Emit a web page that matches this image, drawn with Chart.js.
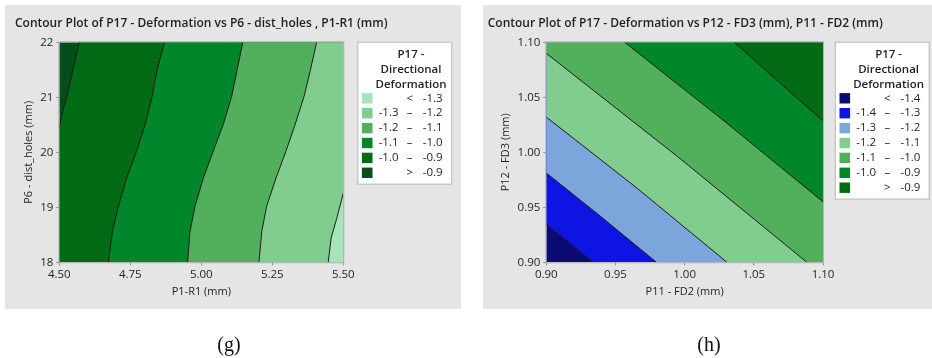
<!DOCTYPE html>
<html>
<head>
<meta charset="utf-8">
<script src="https://cdn.jsdelivr.net/npm/chart.js@4.4.1/dist/chart.umd.min.js"></script>
<style>
  html, body { margin: 0; padding: 0; background: #fff; }
  body { width: 932px; height: 358px; position: relative; overflow: hidden; }
  canvas { position: absolute; top: 0; }
  #chartG { left: 0; }
  #chartH { left: 466px; }
  .caption {
    position: absolute; top: 333px; line-height: 22px;
    font-family: 'Liberation Serif', 'Times New Roman', serif; font-size: 20px; color: #111;
    transform: translateX(-50%);
  }
</style>
</head>
<body>
<canvas id="chartG" width="466" height="358"></canvas>
<canvas id="chartH" width="466" height="358"></canvas>
<div class="caption" style="left:229px">(g)</div>
<div class="caption" style="left:709px">(h)</div>
<script>
const FONT = "'Open Sans', 'Noto Sans', sans-serif";
const TEXT = '#1f1f1f';

// ---- (g) P17 vs P6 - dist_holes, P1-R1 ----
const gXTicks = [4.5, 4.75, 5.0, 5.25, 5.5];
const gYTicks = [18, 19, 20, 21, 22];
// contour lines [P1-R1, P6]
const gLevel09 = [[4.500, 20.45], [4.512, 20.75], [4.526, 21.0], [4.548, 21.5], [4.570, 22.0]];
const gLevel10 = [[4.673, 18.0], [4.687, 18.56], [4.708, 19.02], [4.737, 19.53], [4.772, 20.02], [4.802, 20.5], [4.827, 21.02], [4.843, 21.47], [4.870, 22.0]];
const gLevel11 = [[4.952, 18.0], [4.960, 18.56], [4.978, 19.02], [5.007, 19.53], [5.042, 20.02], [5.077, 20.5], [5.107, 21.02], [5.125, 21.47], [5.146, 22.0]];
const gLevel12 = [[5.203, 18.0], [5.213, 18.56], [5.230, 19.02], [5.263, 19.53], [5.298, 20.02], [5.330, 20.5], [5.362, 21.02], [5.383, 21.47], [5.406, 22.0]];
const gLevel13 = [[5.447, 18.0], [5.457, 18.44], [5.477, 18.80], [5.500, 19.26]];
const gLegendLow = ['', '-1.3', '-1.2', '-1.1', '-1.0', ''];
const gLegendSep = ['<', '–', '–', '–', '–', '>'];
const gLegendHigh = ['-1.3', '-1.2', '-1.1', '-1.0', '-0.9', '-0.9'];
const gColors = ['#a6e4ba', '#80cd8f', '#52b05d', '#00862a', '#006b14', '#004e1c'];

// ---- (h) P17 vs P12 - FD3, P11 - FD2 ----
const hXTicks = [0.90, 0.95, 1.00, 1.05, 1.10];
const hYTicks = [0.90, 0.95, 1.00, 1.05, 1.10];
const hLevel14 = [[0.900, 0.9342], [0.917, 0.9175], [0.9337, 0.900]];
const hLevel13 = [[0.900, 0.9812], [0.940, 0.9410], [0.9796, 0.900]];
const hLevel12 = [[0.900, 1.0320], [0.965, 0.9680], [1.0306, 0.900]];
const hLevel11 = [[0.900, 1.0900], [0.995, 0.9960], [1.0884, 0.900]];
const hLevel10 = [[0.9567, 1.100], [1.030, 1.0270], [1.100, 0.9550]];
const hLevel09 = [[1.036, 1.100], [1.068, 1.0640], [1.100, 1.0287]];
const hLegendLow = ['', '-1.4', '-1.3', '-1.2', '-1.1', '-1.0', ''];
const hLegendSep = ['<', '–', '–', '–', '–', '–', '>'];
const hLegendHigh = ['-1.4', '-1.3', '-1.2', '-1.1', '-1.0', '-0.9', '-0.9'];
const hColors = ['#0b0c73', '#0e14e2', '#7ca6db', '#80cd8f', '#52b05d', '#00862a', '#006b14'];

const pts = (arr) => arr.map(([x, y]) => ({ x, y }));

function band(color, points, order) {
  return {
    data: pts(points), fill: 'shape', backgroundColor: color, yAxisID: 'y',
    borderColor: 'transparent', borderWidth: 0, pointRadius: 0, tension: 0, order,
  };
}

function contour(points) {
  return {
    data: pts(points), fill: false, borderColor: '#1c1c1c', borderWidth: 1, yAxisID: 'y',
    pointRadius: 0, tension: 0, order: 0,
  };
}

const deco = {
  id: 'deco',
  beforeDraw(chart, args, o) {
    const { ctx } = chart;
    ctx.save();
    ctx.fillStyle = '#e5e5e5';
    ctx.fillRect(o.panel[0], o.panel[1], o.panel[2], o.panel[3]);
    ctx.restore();
  },
  afterDatasetsDraw(chart) {
    const { ctx, chartArea: a } = chart;
    ctx.save();
    ctx.strokeStyle = '#b4b4b4';
    ctx.lineWidth = 1;
    ctx.strokeRect(a.left - 0.5, a.top - 0.5, a.right - a.left + 1, a.bottom - a.top + 1);
    ctx.restore();
  },
  afterDraw(chart, args, o) {
    const { ctx, chartArea: a } = chart;
    const lg = o.legend;
    const x0 = a.right + lg.gap, y0 = a.top;
    const h = 56 + (lg.colors.length - 1) * 14.9 + 11.5;
    ctx.save();
    ctx.fillStyle = '#fff';
    ctx.fillRect(x0, y0, 94, h);
    ctx.strokeStyle = '#c8c8c8';
    ctx.lineWidth = 1.5;
    ctx.strokeRect(x0, y0, 94, h);
    ctx.textBaseline = 'middle';
    ctx.fillStyle = TEXT;
    ctx.font = `600 11.5px ${FONT}`;
    ctx.textAlign = 'center';
    ['P17 -', 'Directional', 'Deformation'].forEach((t, i) => ctx.fillText(t, x0 + 53.3, y0 + 12 + i * 15.4));
    ctx.font = `11.5px ${FONT}`;
    lg.colors.forEach((c, i) => {
      const y = y0 + 56 + i * 14.9;
      ctx.fillStyle = c;
      ctx.fillRect(x0 + 4.2, y - 5.2, 10.6, 10.4);
      ctx.fillStyle = TEXT;
      ctx.textAlign = 'right';
      ctx.fillText(lg.low[i], x0 + 40.8, y);
      ctx.textAlign = 'center';
      ctx.fillText(lg.sep[i], x0 + 52, y);
      ctx.textAlign = 'right';
      ctx.fillText(lg.high[i], x0 + 85, y);
    });
    ctx.restore();
  },
};

function axis(ticks, digits, title, titlePad, fitFn) {
  const min = ticks[0], max = ticks[ticks.length - 1];
  return {
    type: 'linear', min, max,
    afterBuildTicks: (s) => { s.ticks = ticks.map((v) => ({ value: v })); },
    afterFit: fitFn,
    ticks: {
      autoSkip: false, maxRotation: 0, padding: 3, color: TEXT,
      font: { family: FONT, size: 11.5 },
      callback: (v) => Number(v).toFixed(digits),
    },
    grid: { drawOnChartArea: false, tickLength: 3, color: '#8a8a8a' },
    border: { display: false },
    title: { display: true, text: title, color: TEXT, font: { family: FONT, size: 11 }, padding: titlePad },
  };
}

function makeChart(id, p) {
  return new Chart(document.getElementById(id), {
    type: 'line',
    data: { datasets: p.datasets },
    options: {
      responsive: false, animation: false, events: [],
      layout: { padding: p.padding },
      scales: {
        x: axis(p.xTicks, p.xDigits, p.xTitle, { top: 0, bottom: 8.4 }, (s) => { s.height = 45; }),
        y: axis(p.yTicks, p.yDigits, p.yTitle, { top: p.yTitlePad, bottom: 0 }, (s) => { s.width = p.yWidth; }),
        // empty right-hand strip that holds the legend box
        yr: {
          type: 'linear', position: 'right', display: true,
          ticks: { display: false }, grid: { display: false }, border: { display: false },
          afterFit: (s) => { s.width = p.legendStrip; },
        },
      },
      plugins: {
        legend: { display: false },
        tooltip: { enabled: false },
        title: {
          display: true, text: p.title, align: 'start', color: TEXT,
          font: { family: FONT, size: 12, weight: '600' },
          padding: { top: 16.8, bottom: 11.1 },
        },
        deco: { panel: p.panel, legend: p.legend },
      },
    },
    plugins: [deco],
  });
}

// panel (g): layered fills, each covering everything to the right of its contour
{
  const [x0, x1] = [gXTicks[0], gXTicks[gXTicks.length - 1]];
  const [y0, y1] = [gYTicks[0], gYTicks[gYTicks.length - 1]];
  const layers = [
    [[x0, y0], [x1, y0], [x1, y1], [x0, y1]],
    [...gLevel09, [x1, y1], [x1, y0], [x0, y0]],
    [...gLevel10, [x1, y1], [x1, y0]],
    [...gLevel11, [x1, y1], [x1, y0]],
    [...gLevel12, [x1, y1], [x1, y0]],
    [...gLevel13, [x1, y0]],
  ];
  const datasets = layers.map((l, i) => band(gColors[gColors.length - 1 - i], l, 20 - i));
  [gLevel09, gLevel10, gLevel11, gLevel12, gLevel13].forEach((c) => datasets.push(contour(c)));
  makeChart('chartG', {
    datasets,
    title: 'Contour Plot of P17 - Deformation vs P6 - dist_holes , P1-R1 (mm)',
    xTitle: 'P1-R1 (mm)', yTitle: 'P6 - dist_holes (mm)',
    xTicks: gXTicks, yTicks: gYTicks, xDigits: 2, yDigits: 0,
    padding: { left: 15, right: 0, top: 0, bottom: 50.7 },
    yWidth: 44.3, yTitlePad: 7.5, legendStrip: 122.7,
    panel: [5, 5, 456, 304],
    legend: { gap: 14.4, colors: gColors, low: gLegendLow, sep: gLegendSep, high: gLegendHigh },
  });
}

// panel (h): layered fills, each covering everything above-right of its contour
{
  const [x0, x1] = [hXTicks[0], hXTicks[hXTicks.length - 1]];
  const [y0, y1] = [hYTicks[0], hYTicks[hYTicks.length - 1]];
  const layers = [
    [[x0, y0], [x1, y0], [x1, y1], [x0, y1]],
    [...hLevel14, [x1, y0], [x1, y1], [x0, y1]],
    [...hLevel13, [x1, y0], [x1, y1], [x0, y1]],
    [...hLevel12, [x1, y0], [x1, y1], [x0, y1]],
    [...hLevel11, [x1, y0], [x1, y1], [x0, y1]],
    [...hLevel10, [x1, y1]],
    [...hLevel09, [x1, y1]],
  ];
  const datasets = layers.map((l, i) => band(hColors[i], l, 20 - i));
  [hLevel14, hLevel13, hLevel12, hLevel11, hLevel10, hLevel09].forEach((c) => datasets.push(contour(c)));
  makeChart('chartH', {
    datasets,
    title: 'Contour Plot of P17 - Deformation vs P12 - FD3 (mm), P11 - FD2 (mm)',
    xTitle: 'P11 - FD2 (mm)', yTitle: 'P12 - FD3 (mm)',
    xTicks: hXTicks, yTicks: hYTicks, xDigits: 2, yDigits: 2,
    padding: { left: 21.7, right: 0, top: 0, bottom: 50.7 },
    yWidth: 58.6, yTitlePad: 11.8, legendStrip: 109,
    panel: [17, 5, 449, 304],
    legend: { gap: 12.3, colors: hColors, low: hLegendLow, sep: hLegendSep, high: hLegendHigh },
  });
}
</script>
</body>
</html>
